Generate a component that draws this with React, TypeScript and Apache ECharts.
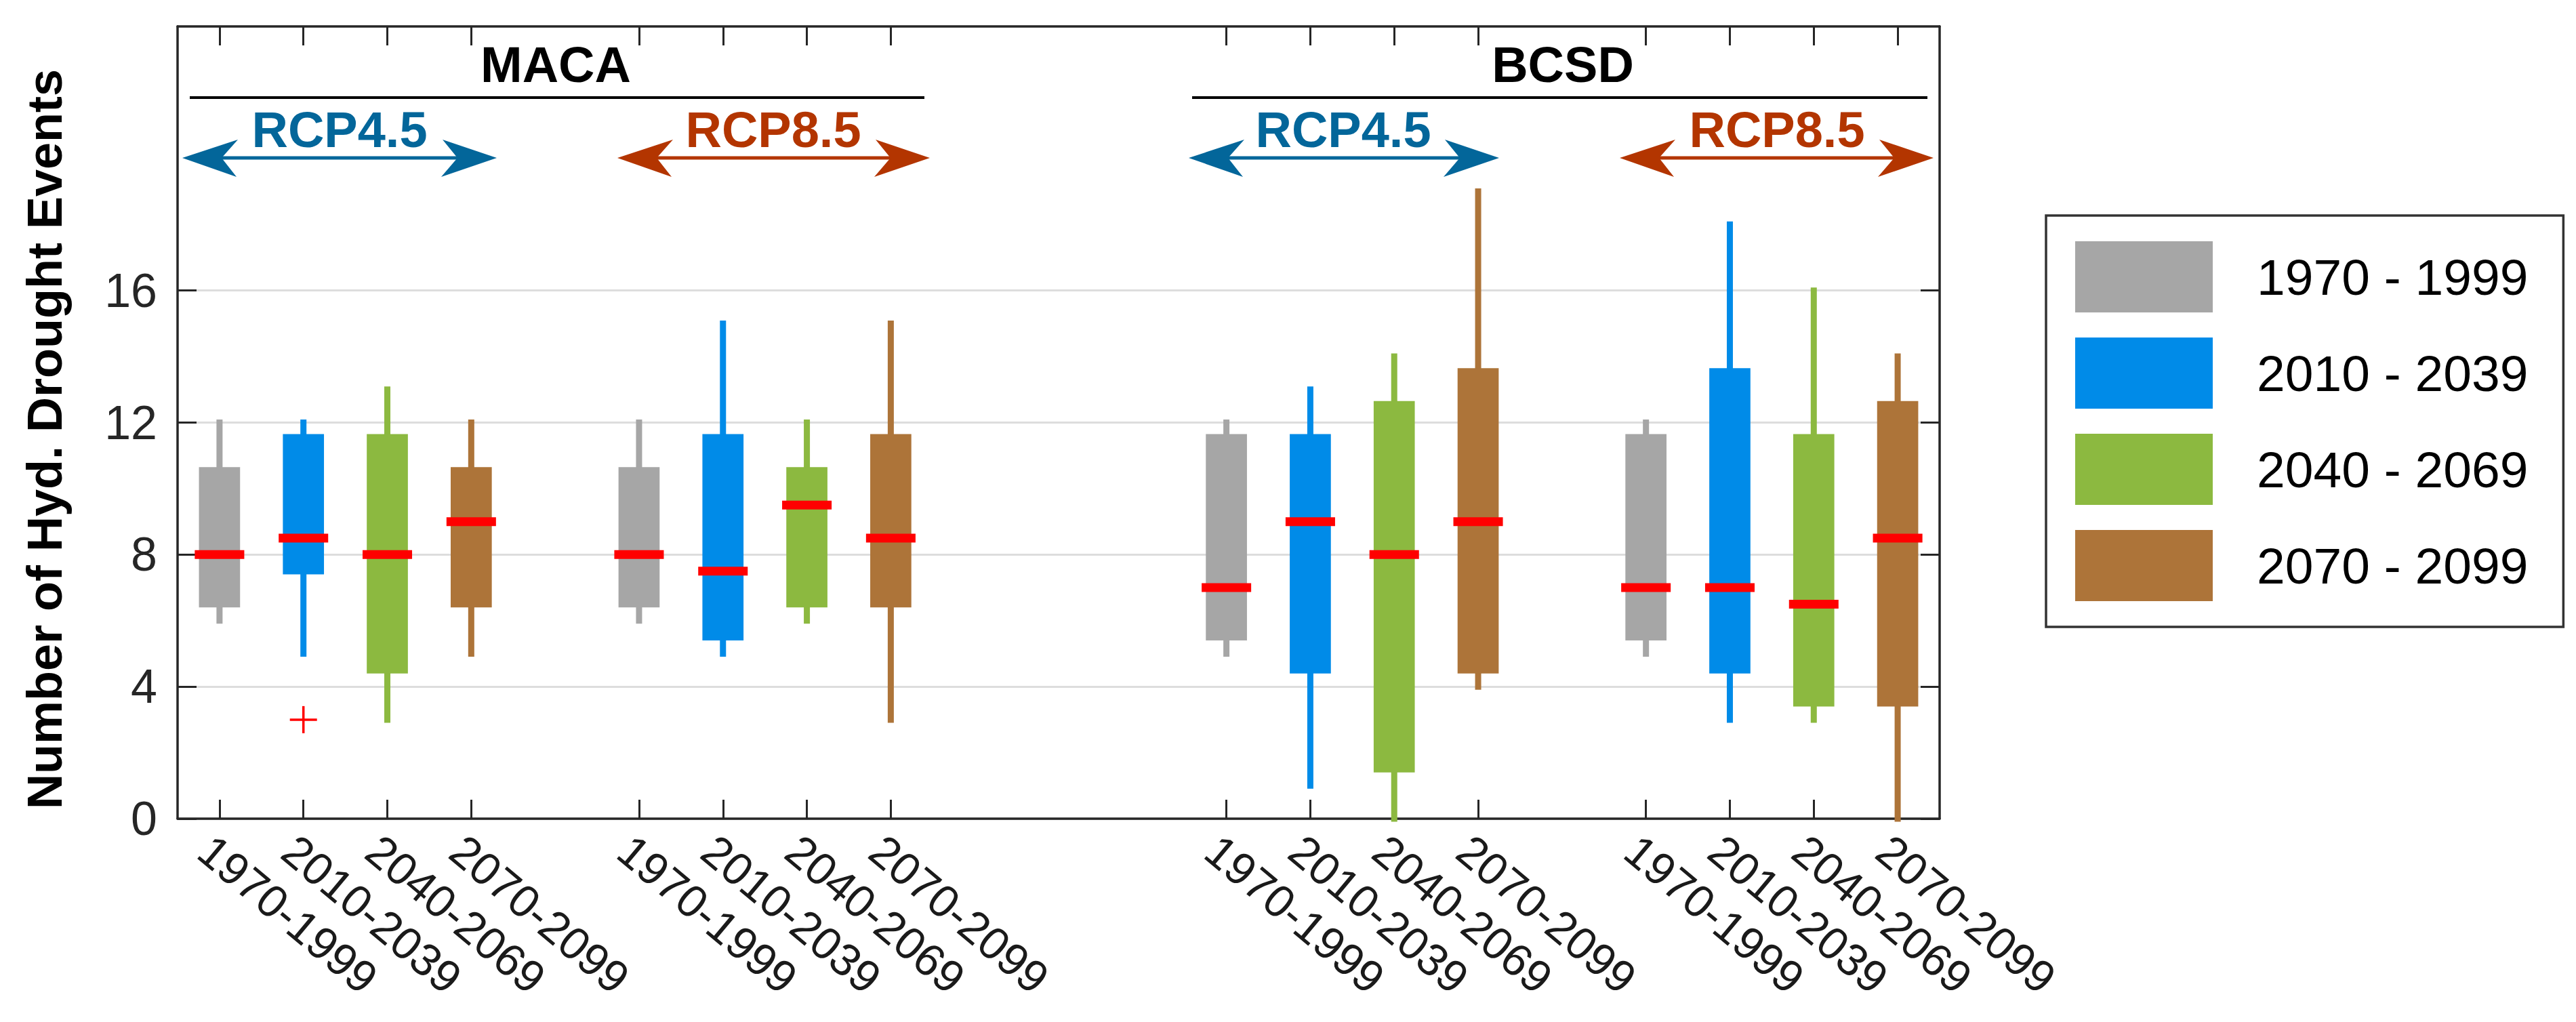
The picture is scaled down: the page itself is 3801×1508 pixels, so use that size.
import React, { useEffect, useRef } from 'react';
import * as echarts from 'echarts';

// ---------------- data ----------------
const periods = ['1970 - 1999', '2010 - 2039', '2040 - 2069', '2070 - 2099'];
const tickLabels = ['1970-1999', '2010-2039', '2040-2069', '2070-2099'];
const groupNames = ['MACA RCP4.5', 'MACA RCP8.5', 'BCSD RCP4.5', 'BCSD RCP8.5'];
const groupStart = [1, 6, 13, 18];
const yTicks = [0, 4, 8, 12, 16];

// [min, q1, median, q3, max] for each group (MACA 4.5, MACA 8.5, BCSD 4.5, BCSD 8.5)
const stats1970 = [
  [6, 6.4, 8, 10.65, 12],
  [6, 6.4, 8, 10.65, 12],
  [5, 5.4, 7, 11.65, 12],
  [5, 5.4, 7, 11.65, 12],
];
const stats2010 = [
  [5, 7.4, 8.5, 11.65, 12],
  [5, 5.4, 7.5, 11.65, 15],
  [1, 4.4, 9, 11.65, 13],
  [3, 4.4, 7, 13.65, 18],
];
const stats2040 = [
  [3, 4.4, 8, 11.65, 13],
  [6, 6.4, 9.5, 10.65, 12],
  [0, 1.4, 8, 12.65, 14],
  [3, 3.4, 6.5, 11.65, 16],
];
const stats2070 = [
  [5, 6.4, 9, 10.65, 12],
  [3, 6.4, 8.5, 11.65, 15],
  [4, 4.4, 9, 13.65, 19],
  [0, 3.4, 8.5, 12.65, 14],
];
// [x position, value]
const outliers = [[2, 3]];

// ---------------- styles / layout ----------------
const colors = ['#a6a6a6', '#008be8', '#8cb940', '#ad7439'];
const blueAnn = '#03669a';
const redAnn = '#b33500';
const FONT = "'Liberation Sans', Arial, Helvetica, sans-serif";
const AX = '#262626';

const W = 3801;
const H = 1508;
const GL = 262;
const GR = 2862;
const GT = 39;
const GB = 1208;

const allStats = [stats1970, stats2010, stats2040, stats2070];
const positions = groupStart.flatMap((g) => [0, 1, 2, 3].map((p) => g + p));
const labelOf = (v: number) => {
  for (const g of groupStart) {
    const k = Math.round(v) - g;
    if (k >= 0 && k < 4) return tickLabels[k];
  }
  return '';
};

function arrow(x1: number, x2: number, y: number, color: string) {
  return [
    { type: 'line', shape: { x1: x1 + 55, y1: y, x2: x2 - 55, y2: y }, style: { stroke: color, lineWidth: 5 } },
    { type: 'polygon', shape: { points: [[x1, y], [x1 + 82, y - 27], [x1 + 58, y], [x1 + 80, y + 28]] }, style: { fill: color } },
    { type: 'polygon', shape: { points: [[x2, y], [x2 - 80, y - 27], [x2 - 58, y], [x2 - 82, y + 28]] }, style: { fill: color } },
  ];
}

const annTitle = (text: string, x: number, y: number, color: string) => ({
  type: 'text',
  x,
  y,
  style: { text, fill: color, font: `bold 74px ${FONT}`, align: 'center', verticalAlign: 'middle' },
});

export default function App() {
  const ref = useRef<HTMLDivElement>(null);

  useEffect(() => {
    document.body.style.margin = '0';
    document.body.style.overflow = 'hidden';
    const chart = echarts.init(ref.current!, null, { renderer: 'svg' });

    const boxSeries = periods.map((name, p) => ({
      type: 'custom',
      name,
      itemStyle: { color: colors[p] },
      data: allStats[p].map((s, g) => [groupStart[g] + p, ...s]),
      encode: { x: 0, y: [1, 2, 3, 4, 5] },
      z: 3,
      renderItem: (params: any, api: any) => {
        const x = api.value(0);
        const pMin = api.coord([x, api.value(1)]);
        const pQ1 = api.coord([x, api.value(2)]);
        const pMed = api.coord([x, api.value(3)]);
        const pQ3 = api.coord([x, api.value(4)]);
        const pMax = api.coord([x, api.value(5)]);
        const unit = api.size([1, 0])[0];
        const bw = unit * 0.49;
        const mw = unit * 0.59;
        const cx = pMed[0];
        return {
          type: 'group',
          children: [
            {
              type: 'line',
              shape: { x1: cx, y1: pMax[1], x2: cx, y2: pMin[1] },
              style: { stroke: colors[p], lineWidth: 9, lineCap: 'square' },
            },
            {
              type: 'rect',
              shape: { x: cx - bw / 2, y: pQ3[1], width: bw, height: pQ1[1] - pQ3[1] },
              style: { fill: colors[p] },
            },
            {
              type: 'rect',
              shape: { x: cx - mw / 2, y: pMed[1] - 6.5, width: mw, height: 13 },
              style: { fill: '#ff0000' },
            },
          ],
        };
      },
    }));

    const outlierSeries = {
      type: 'custom',
      name: 'outliers',
      data: outliers,
      encode: { x: 0, y: 1 },
      z: 4,
      renderItem: (params: any, api: any) => {
        const c = api.coord([api.value(0), api.value(1)]);
        const h = 20;
        return {
          type: 'group',
          children: [
            { type: 'line', shape: { x1: c[0] - h, y1: c[1], x2: c[0] + h, y2: c[1] }, style: { stroke: '#ff0000', lineWidth: 3.5 } },
            { type: 'line', shape: { x1: c[0], y1: c[1] - h, x2: c[0], y2: c[1] + h }, style: { stroke: '#ff0000', lineWidth: 3.5 } },
          ],
        };
      },
    };

    const xBase = {
      type: 'value',
      min: 0.5,
      max: 21.5,
      axisLine: { show: true, onZero: false, lineStyle: { color: AX, width: 3.5 } },
      axisTick: { show: true, inside: true, length: 28, customValues: positions, lineStyle: { color: AX, width: 3 } },
      splitLine: { show: false },
    };
    const yBase = {
      type: 'value',
      min: 0,
      max: 24,
      axisLine: { show: true, onZero: false, lineStyle: { color: AX, width: 3.5 } },
      axisTick: { show: true, inside: true, length: 28, customValues: yTicks, lineStyle: { color: AX, width: 3 } },
    };

    const graphic: any[] = [
      {
        type: 'text',
        x: 66,
        y: 648,
        rotation: Math.PI / 2,
        style: {
          text: 'Number of Hyd. Drought Events',
          fill: '#000',
          font: `bold 72px ${FONT}`,
          align: 'center',
          verticalAlign: 'middle',
        },
      },
      annTitle('MACA', 820, 95, '#000'),
      annTitle('BCSD', 2306, 95, '#000'),
      { type: 'line', shape: { x1: 280, y1: 144, x2: 1364, y2: 144 }, style: { stroke: '#000', lineWidth: 4 } },
      { type: 'line', shape: { x1: 1759, y1: 144, x2: 2844, y2: 144 }, style: { stroke: '#000', lineWidth: 4 } },
      annTitle('RCP4.5', 501, 191, blueAnn),
      annTitle('RCP8.5', 1141, 191, redAnn),
      annTitle('RCP4.5', 1982, 191, blueAnn),
      annTitle('RCP8.5', 2622, 191, redAnn),
      ...arrow(269, 733, 233, blueAnn),
      ...arrow(911, 1372, 233, redAnn),
      ...arrow(1754, 2212, 233, blueAnn),
      ...arrow(2390, 2853, 233, redAnn),
    ];

    chart.setOption({
      animation: false,
      backgroundColor: '#ffffff',
      textStyle: { fontFamily: FONT },
      grid: {
        left: GL,
        right: W - GR,
        top: GT,
        bottom: H - GB,
        containLabel: false,
        outerBoundsMode: 'none',
      },
      xAxis: [
        {
          ...xBase,
          position: 'bottom',
          axisLabel: {
            show: true,
            customValues: positions,
            formatter: (v: number) => labelOf(v),
            rotate: -40,
            verticalAlign: 'top',
            margin: 12,
            fontSize: 67,
            color: '#1a1a1a',
            fontFamily: FONT,
          },
        },
        { ...xBase, position: 'top', axisLabel: { show: false } },
      ],
      yAxis: [
        {
          ...yBase,
          position: 'left',
          axisLabel: { show: true, customValues: yTicks, fontSize: 70, color: AX, margin: 30, fontFamily: FONT },
          splitLine: { show: true, lineStyle: { color: '#dddddd', width: 3 } },
        },
        { ...yBase, position: 'right', axisLabel: { show: false }, splitLine: { show: false } },
      ],
      legend: {
        data: periods,
        orient: 'vertical',
        left: 3019,
        top: 318,
        itemWidth: 203,
        itemHeight: 105,
        itemGap: 37,
        icon: 'rect',
        selectedMode: false,
        borderColor: '#333333',
        borderWidth: 3.5,
        padding: [38, 52, 38, 43],
        textStyle: { fontSize: 75, color: '#000', fontFamily: FONT, padding: [0, 0, 0, 60] },
      },
      series: [...boxSeries, outlierSeries],
      graphic,
    });

    return () => chart.dispose();
  }, []);

  return <div ref={ref} style={{ position: 'absolute', left: 0, top: 0, width: W, height: H }} />;
}
